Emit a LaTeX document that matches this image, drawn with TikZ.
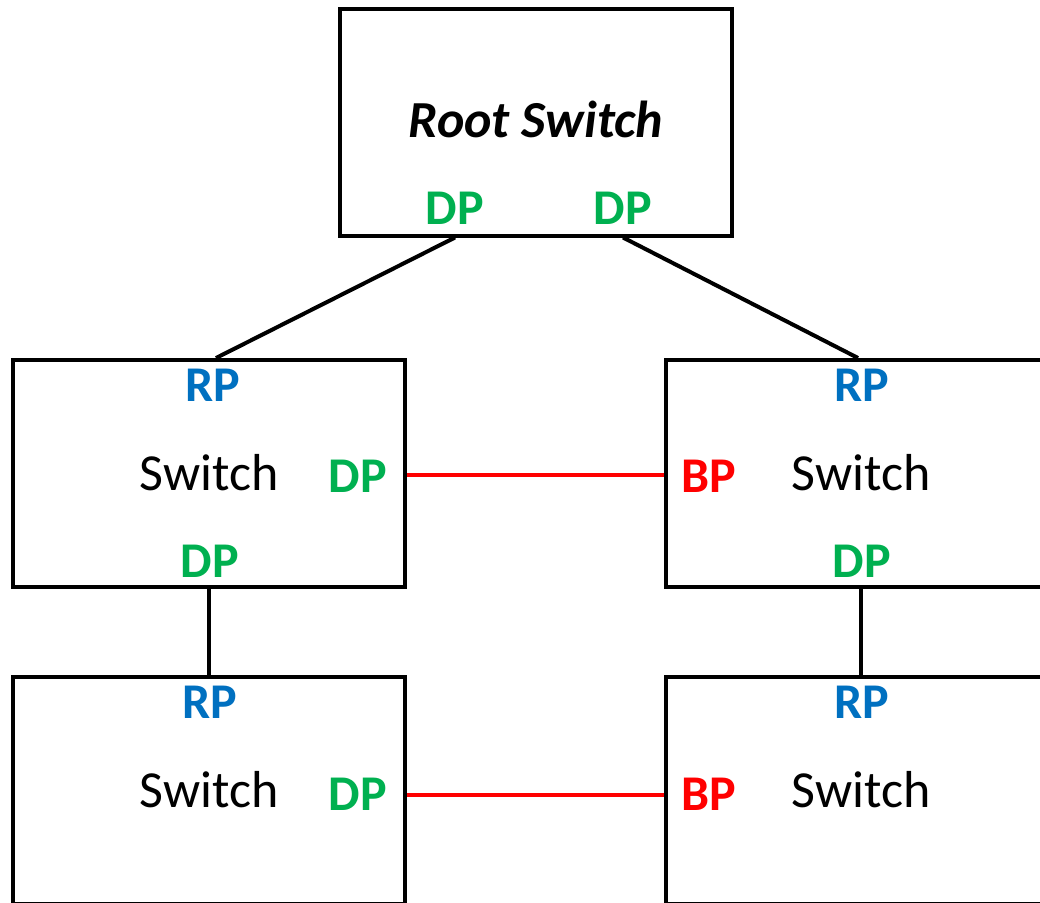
\documentclass[tikz,border=0pt]{standalone}
\usepackage{fontspec}
\setmainfont{Carlito}
\definecolor{dpgreen}{HTML}{00B050}
\definecolor{rpblue}{HTML}{0070C0}
\definecolor{bpred}{HTML}{FF0000}
\tikzset{
  swbox/.style={draw,line width=4pt,minimum width=392pt,minimum height=227pt,inner sep=0pt},
  portlbl/.style={font=\fontsize{50}{50}\selectfont\bfseries,anchor=base,inner sep=0pt},
  dp/.style={portlbl,text=dpgreen},
  rp/.style={portlbl,text=rpblue},
  bp/.style={portlbl,text=bpred},
  swname/.style={font=\fontsize{52}{52}\selectfont,anchor=base,inner sep=0pt},
  swlink/.style={line width=4pt},
  blocked/.style={line width=4pt,bpred}
}
\begin{document}
\begin{tikzpicture}[x=1pt,y=-1pt]
                \useasboundingbox (0,0) rectangle (1040,902);
                \clip (0,0) rectangle (1040,902);

                % switches
                \node[swbox] (root) at (535.5,122) {};
                \node[swbox] (lsw) at (209,473.5) {};
                \node[swbox] (rsw) at (862,473.5) {};
                \node[swbox] (lsw2) at (209,790.5) {};
                \node[swbox] (rsw2) at (862,790.5) {};

                % root
                \node[swname,font=\fontsize{52}{52}\selectfont\bfseries\itshape] (rootname) at (536,137) {Root Switch};
                \node[dp] (rootdpa) at (455,224) {DP};
                \node[dp] (rootdpb) at (623,224) {DP};

                % left
                \node[rp] (lrp) at (213,401) {RP};
                \node[swname] (lname) at (209,490) {Switch};
                \node[dp] (ldp) at (358,492) {DP};
                \node[dp] (ldpb) at (210,577) {DP};
                \node[rp] (lrp2) at (210,718) {RP};
                \node[swname] (lname2) at (209,807) {Switch};
                \node[dp] (ldp2) at (358,810) {DP};

                % right
                \node[rp] (rrp) at (862,401) {RP};
                \node[bp] (rbp) at (709,492) {BP};
                \node[swname] (rname) at (861,490) {Switch};
                \node[dp] (rdpb) at (862,577) {DP};
                \node[rp] (rrp2) at (862,718) {RP};
                \node[bp] (rbp2) at (709,810) {BP};
                \node[swname] (rname2) at (861,807) {Switch};

                % links
                \draw[swlink] (rootdpa |- root.south) -- (216,0 |- lsw.north);
                \draw[swlink] (rootdpb |- root.south) -- (858,0 |- rsw.north);
                \draw[swlink] (lname |- lsw.south) -- (lname |- lsw2.north);
                \draw[swlink] (rname |- rsw.south) -- (rname |- rsw2.north);
                \draw[blocked] (lsw.east |- 0,475) -- (rsw.west |- 0,475);
                \draw[blocked] (lsw2.east |- 0,795) -- (rsw2.west |- 0,795);
\end{tikzpicture}
\end{document}
